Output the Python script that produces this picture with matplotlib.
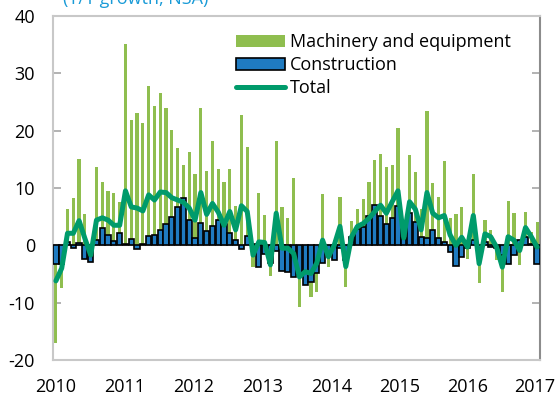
import matplotlib
matplotlib.use("Agg")
import matplotlib.pyplot as plt
import numpy as np

plt.rcParams['font.family'] = ['Open Sans', 'DejaVu Sans']

years = ["2010", "2011", "2012", "2013", "2014", "2015", "2016", "2017"]

machinery = [-17.1, -7.5, 6.3, 8.2, 15.0, 5.5, -2.0, 13.7, 11.0, 9.5, 9.2, 7.5,
             35.1, 21.8, 23.0, 21.4, 27.8, 24.3, 26.6, 24.0, 20.1, 16.9, 14.0, 16.2,
             12.4, 24.0, 13.0, 18.2, 13.3, 11.1, 13.3, 6.9, 22.7, 17.2, -3.7, 9.2,
             5.3, -5.3, 18.2, 6.6, 4.7, 11.7, -10.8, -7.0, -9.0, -8.1, 8.9, -3.8,
             1.0, 8.5, -7.3, 4.2, 6.3, 8.1, 11.0, 14.9, 15.9, 13.7, 14.0, 20.5,
             0.5, 15.7, 12.8, 6.4, 23.4, 10.8, 8.5, 14.7, 4.7, 5.5, 6.6, -2.4,
             12.4, -6.6, 4.4, 2.7, -2.6, -8.1, 7.8, 5.6, -3.5, 5.9, 2.4, 4.1]

construction = [-3.2, -3.2, 0.5, -0.4, 0.4, -2.4, -2.9, 1.0, 3.0, 1.8, 0.8, 2.1,
                0.3, 1.1, -0.7, 0.3, 1.6, 1.8, 2.6, 3.8, 5.0, 6.7, 8.3, 4.4,
                1.2, 3.9, 2.5, 3.3, 4.4, 3.7, 2.1, 1.0, -0.6, 1.6, 0.2, -3.7,
                -1.5, -3.1, -1.0, -4.5, -4.6, -5.5, -5.0, -7.0, -6.4, -4.9, -3.0, -1.5,
                -2.5, -0.5, -2.5, 1.5, 2.8, 3.2, 5.2, 7.0, 5.2, 3.8, 4.8, 6.8,
                1.2, 5.6, 4.1, 1.5, 1.3, 2.6, 1.2, 0.6, -1.1, -3.6, -2.0, -0.5,
                1.0, -0.5, 0.5, -0.3, -0.5, -1.7, -3.3, -1.7, 1.0, 1.4, 0.3, -3.3]

total = [-6.2, -4.0, 2.1, 2.1, 4.3, 1.2, -1.7, 4.4, 4.8, 4.4, 3.5, 3.5,
         9.5, 6.7, 6.5, 6.0, 8.8, 7.9, 9.3, 9.2, 8.3, 7.9, 7.5, 6.5,
         4.4, 9.2, 5.4, 7.3, 5.8, 3.5, 5.9, 2.7, 6.9, 5.9, -1.7, 0.6,
         0.5, -3.4, 5.6, -0.5, -0.5, -1.4, -5.5, -4.6, -4.9, -3.1, 0.9, -2.0,
         0.0, 3.3, -3.7, 1.5, 3.3, 3.8, 4.7, 5.9, 7.0, 5.6, 7.6, 9.5,
         1.3, 7.6, 6.3, 2.7, 9.2, 5.6, 4.8, 5.2, 1.8, 0.0, 1.4, -0.3,
         5.2, -3.2, 2.0, 1.5, -0.3, -3.8, 1.5, 0.9, -0.9, 3.1, 1.5, -0.3]

n = len(total)
x = np.arange(n)

fig = plt.figure(figsize=(5.59, 4.01), dpi=100)
ax = fig.add_axes([53/559, 1-360/401, 487/559, 344/401])

ax.axhline(0, color='#bfbfbf', lw=1.5, zorder=1)
b1 = ax.bar(x, machinery, width=0.55, color='#8fbe4f', zorder=2,
            label='Machinery and equipment')
b2 = ax.bar(x, construction, width=0.9, color='#1f7bc1', edgecolor='black',
            linewidth=1.2, zorder=3, label='Construction')
l1, = ax.plot(x, total, color='#009b6b', lw=3.6, zorder=4, solid_joinstyle='round',
              solid_capstyle='round', label='Total')

ax.set_xlim(-0.5, n - 0.5)
ax.set_ylim(-20, 40)
ax.set_yticks(np.arange(-20, 41, 10))
ax.set_yticklabels([str(v) for v in range(-20, 41, 10)], fontsize=13)
label_pos = [0.0, 11.8, 23.7, 35.6, 47.5, 59.3, 71.1, 82.6]
ax.set_xticks(label_pos)
ax.set_xticklabels(years, fontsize=13)

ax.tick_params(axis='y', direction='in', length=6, width=1.2, color='#a6a6a6',
               right=True, labelright=False, pad=13)
ax.tick_params(axis='x', length=0, pad=13)

for s in ['left', 'bottom', 'top']:
    ax.spines[s].set_color('#c8c8c8')
    ax.spines[s].set_linewidth(1.5)
ax.spines['right'].set_color('#8c8c8c')
ax.spines['right'].set_linewidth(1.5)

leg = ax.legend([b1, b2, l1], ['Machinery and equipment', 'Construction', 'Total'],
                loc='upper left', bbox_to_anchor=(0.376, 0.95), frameon=False,
                fontsize=13, handlelength=2.7, handleheight=0.6,
                handletextpad=0.3, labelspacing=0.28, borderpad=0,
                borderaxespad=0)

fig.text(63/559, 1 - 4/401, "(Y/Y growth, NSA)", color='#1a9bd7', fontsize=13,
         va='baseline', ha='left')

fig.savefig("out.png", dpi=100)
